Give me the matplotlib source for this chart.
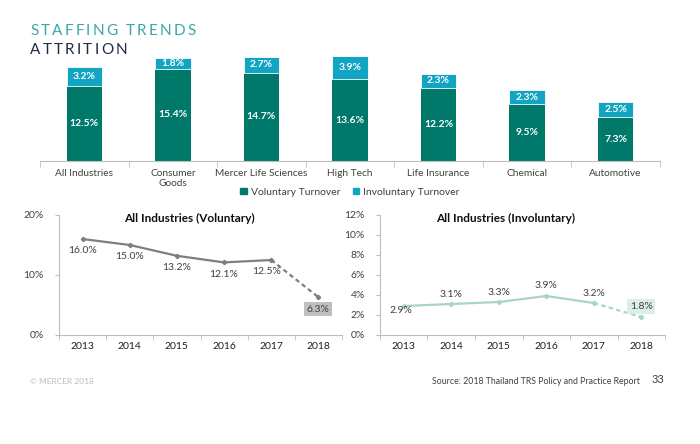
import numpy as np
from matplotlib import pyplot as plt
from matplotlib.patches import Patch

plt.rcParams['font.family'] = ['Lato', 'DejaVu Sans']

industries = ['All Industries', 'Consumer\nGoods', 'Mercer Life Sciences', 'High Tech',
              'Life Insurance', 'Chemical', 'Automotive']
voluntary = [12.5, 15.4, 14.7, 13.6, 12.2, 9.5, 7.3]
involuntary = [3.2, 1.8, 2.7, 3.9, 2.3, 2.3, 2.5]

years = ['2013', '2014', '2015', '2016', '2017', '2018']
vol_trend = [16.0, 15.0, 13.2, 12.1, 12.5, 6.3]
invol_trend = [2.9, 3.1, 3.3, 3.9, 3.2, 1.8]

DARK = '#00796b'
LIGHT = '#12a5c3'
AXIS = '#bfbfbf'
TXT = '#404040'
W, H = 700, 444


def px(left, top, right, bottom):
    return [left / W, 1 - bottom / H, (right - left) / W, (bottom - top) / H]


fig = plt.figure(figsize=(7, 4.44), dpi=100)

# spaced title letters
renderer = fig.canvas.get_renderer()
for line, color, ypx in [('STAFFING TRENDS', '#3aa7a7', 31), ('ATTRITION', '#1f2b48', 50)]:
    x = 30
    for ch in line:
        t = fig.text(x / W, 1 - ypx / H, ch, fontsize=11, color=color, va='center', ha='left')
        w = t.get_window_extent(renderer).width if ch != ' ' else 4
        x += w + 2.2

# stacked bar chart
ax = fig.add_axes(px(40, 53, 660, 161))
xs = np.arange(len(industries))
ax.bar(xs, voluntary, 0.4, color=DARK, label='Voluntary Turnover')
ax.bar(xs, involuntary, 0.4, bottom=voluntary, color=LIGHT, label='Involuntary Turnover',
       edgecolor='white', linewidth=0.6)
for i in range(len(xs)):
    ax.text(xs[i], voluntary[i] / 2, f'{voluntary[i]:.1f}%', ha='center', va='center',
            color='white', fontsize=7.5, fontweight='bold')
    ax.text(xs[i], voluntary[i] + involuntary[i] / 2, f'{involuntary[i]:.1f}%', ha='center',
            va='center', color='white', fontsize=7.5, fontweight='bold')
ax.set_xlim(-0.5, len(xs) - 0.5)
ax.set_ylim(0, 18)
ax.set_yticks([])
for s in ['top', 'right', 'left']:
    ax.spines[s].set_visible(False)
ax.spines['bottom'].set_color(AXIS)
ax.set_xticks(xs)
ax.set_xticklabels(industries, fontsize=7.3, color=TXT, va='top', linespacing=1.1)
ax.tick_params(axis='x', length=0, pad=6)
ax.set_xticks(np.arange(-0.5, len(xs)), minor=True)
ax.tick_params(axis='x', which='minor', length=4, color=AXIS)
ax.legend(handles=[Patch(color=DARK, label='Voluntary Turnover'),
                   Patch(color=LIGHT, label='Involuntary Turnover')],
          loc='center', bbox_to_anchor=(0.5, -0.29), ncol=2, frameon=False, fontsize=7.5,
          handlelength=0.6, handleheight=0.6, handletextpad=0.4, columnspacing=1.2,
          labelcolor=TXT)


def trend(rect, values, ymax, step, color, title, title_x, offsets, box):
    a = fig.add_axes(px(*rect))
    xi = np.arange(len(values))
    a.plot(xi[:-1], values[:-1], color=color, lw=1.6, marker='D', ms=2.2)
    a.plot(xi[-2:], values[-2:], color=color, lw=1.6, ls=(0, (2, 1.5)), marker='D', ms=2.2,
           markevery=[1])
    for i, v in enumerate(values):
        kw = {}
        if i == len(values) - 1:
            kw['bbox'] = dict(boxstyle='square,pad=0.25', fc=box, ec='none')
        a.annotate(f'{v:.1f}%', (i, v), xytext=offsets[i], textcoords='offset points',
                   ha='center', va='center', fontsize=7.5, color=TXT, **kw)
    a.set_xlim(-0.5, len(values) - 0.5)
    a.set_ylim(0, ymax)
    a.set_yticks(np.arange(0, ymax + 0.1, step))
    a.set_yticklabels([f'{int(t)}%' for t in np.arange(0, ymax + 0.1, step)],
                      fontsize=7.5, color=TXT)
    a.set_xticks(xi)
    a.set_xticklabels(years, fontsize=7.5, color='#202020')
    a.tick_params(axis='x', length=0, pad=5)
    a.set_xticks(np.arange(-0.5, len(values)), minor=True)
    a.tick_params(axis='x', which='minor', length=3.5, color=AXIS)
    a.tick_params(axis='y', length=3, color=AXIS, pad=8)
    for s in ['top', 'right']:
        a.spines[s].set_visible(False)
    for s in ['left', 'bottom']:
        a.spines[s].set_color(AXIS)
    a.text(title_x, 0.97, title, transform=a.transAxes, ha='center', va='center',
           fontsize=8.5, fontweight='bold', color='#101010')
    return a


trend((59, 215, 342, 335), vol_trend, 20, 10, '#7f7f7f', 'All Industries (Voluntary)', 0.46,
      [(0, -8), (0, -8.5), (0, -8.5), (0, -9), (-3, -8), (0, -8.5)], '#bfbfbf')
trend((380, 215, 665, 335), invol_trend, 12, 2, '#a9d6c2', 'All Industries (Involuntary)', 0.44,
      [(-2, -3), (0, 7), (0, 7), (0, 7.5), (0, 7), (0, 7.5)], '#dcefe6')

fig.text(30 / W, 1 - 381 / H, '© MERCER 2018', fontsize=6, color='#bdbdbd', va='center')
fig.text(640 / W, 1 - 381 / H, 'Source: 2018 Thailand TRS Policy and Practice Report',
         fontsize=6.3, color='#404040', ha='right', va='center')
fig.text(652 / W, 1 - 379 / H, '33', fontsize=8, color='#404040', ha='left', va='center')

fig.savefig('out.png', dpi=100)
